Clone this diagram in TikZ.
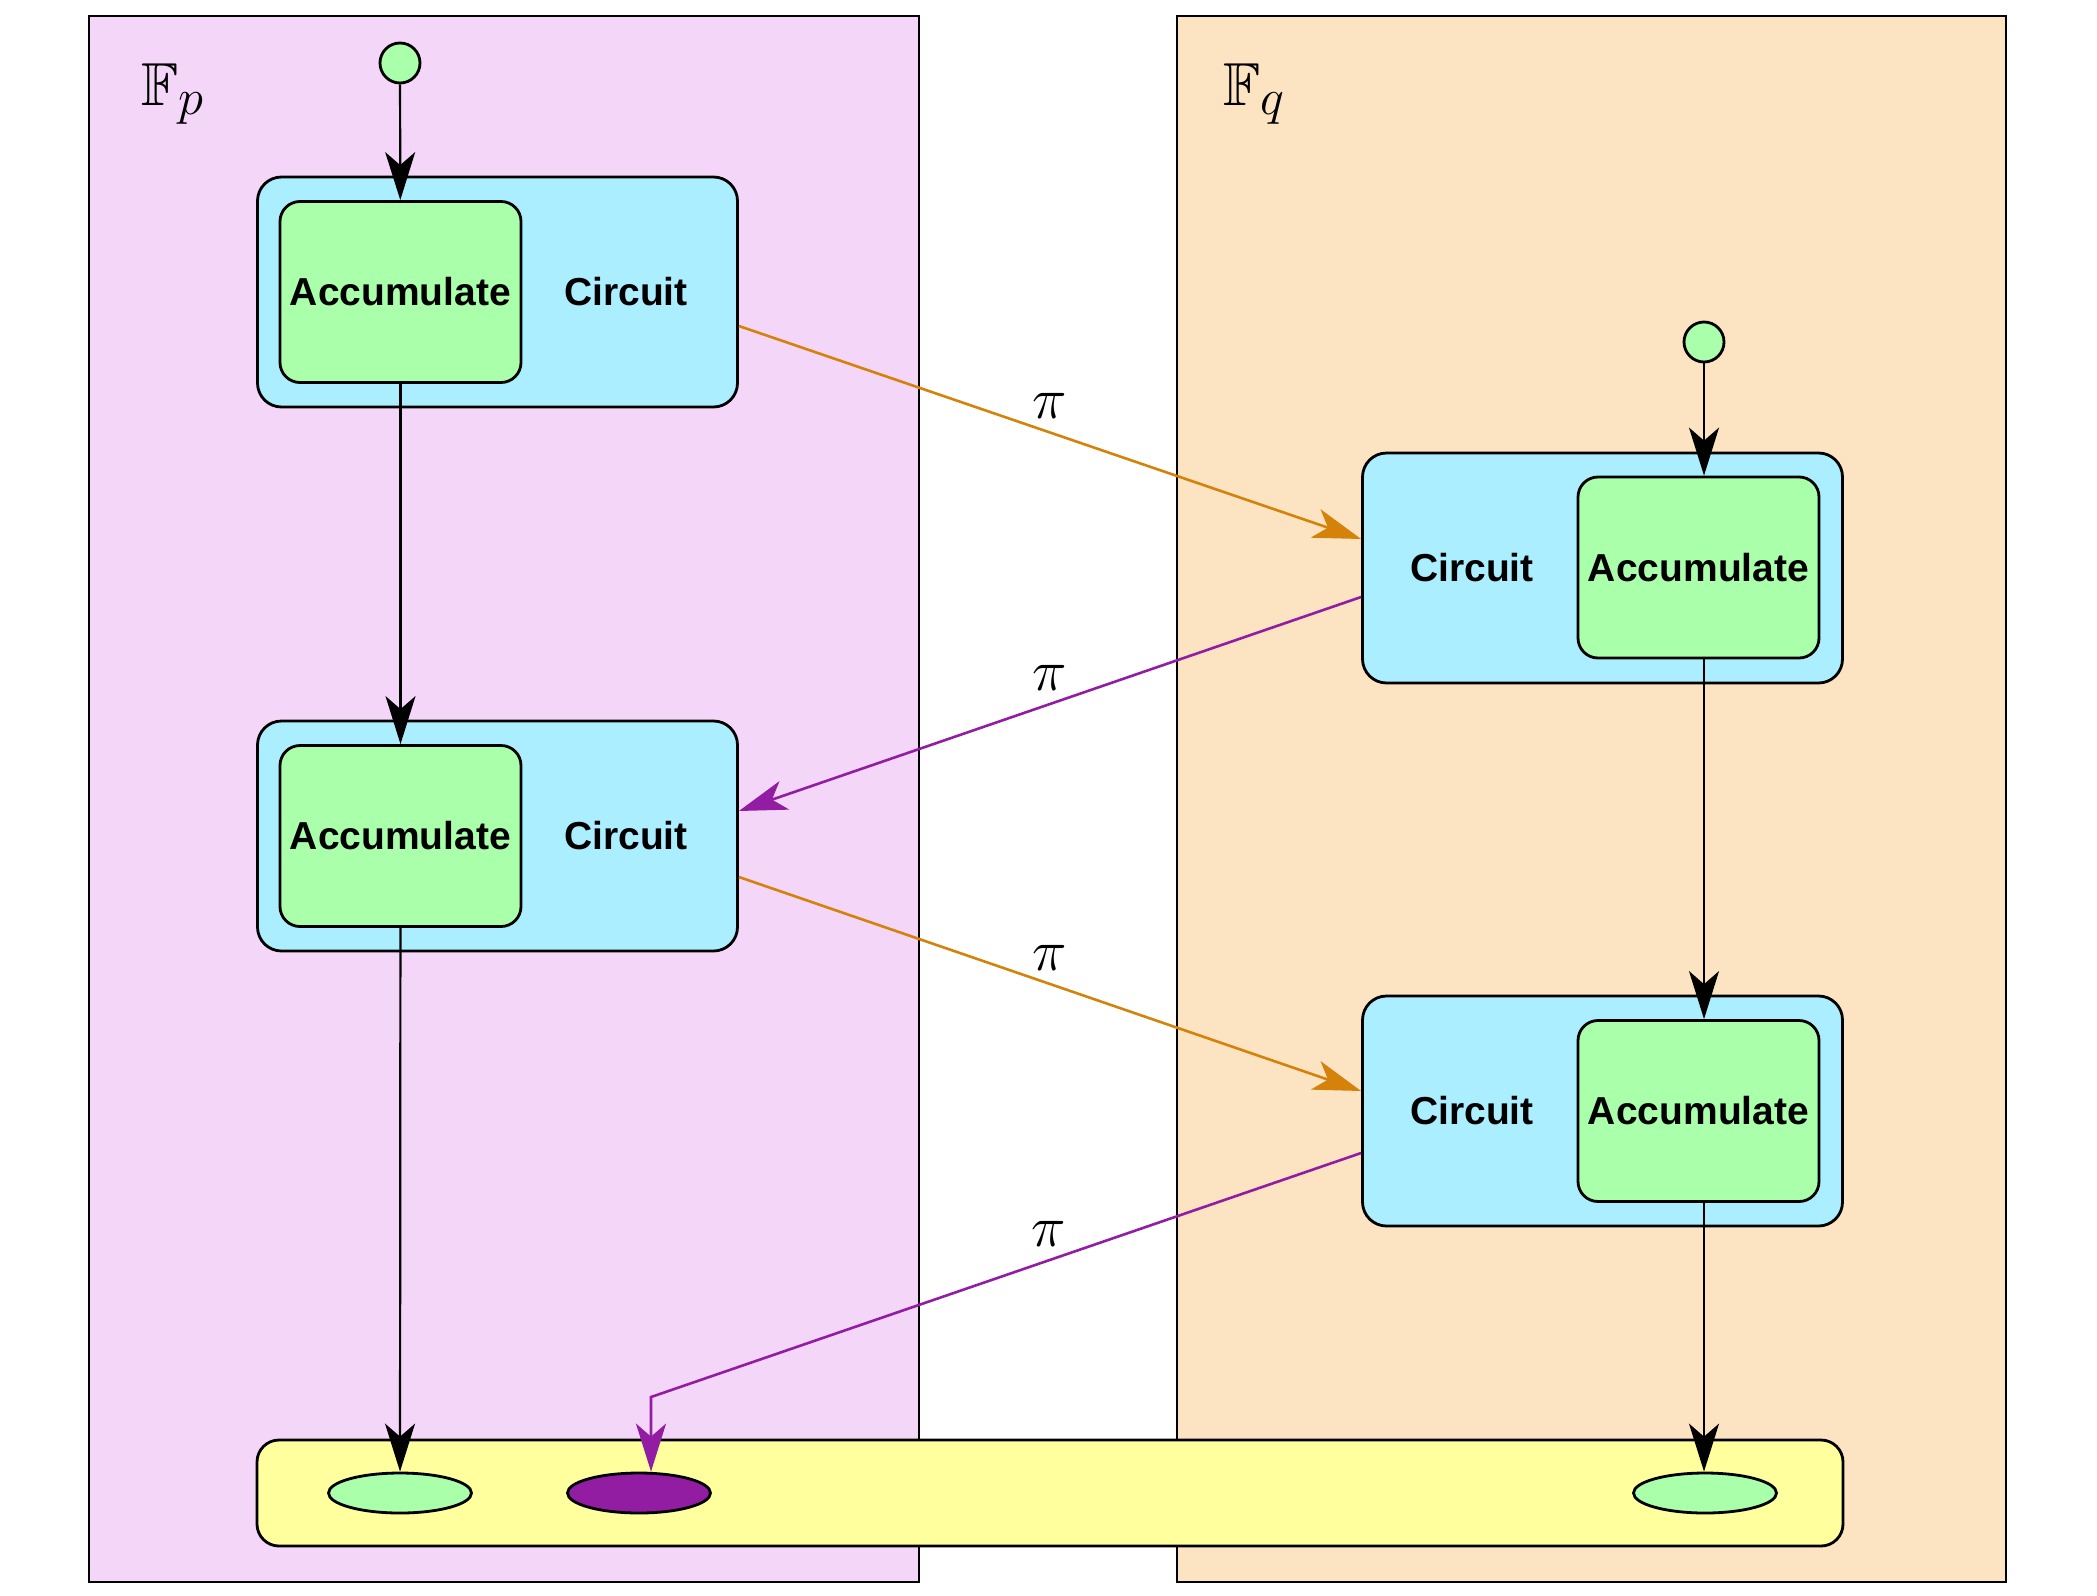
\documentclass[tikz,border=0pt]{standalone}
\usepackage{fontspec}
\setmainfont{Liberation Sans}
\usepackage{amsmath}
\usepackage{amssymb}
\usetikzlibrary{arrows.meta, shapes.geometric, calc}

\definecolor{fieldp}{HTML}{F4D6F8}
\definecolor{fieldq}{HTML}{FCE3C1}
\definecolor{circfill}{HTML}{AAEEFF}
\definecolor{accfill}{HTML}{AAFFAA}
\definecolor{barfill}{HTML}{FFFF9E}
\definecolor{sendq}{HTML}{D4820A}
\definecolor{sendp}{HTML}{921CA2}

\begin{document}
\begin{tikzpicture}[x=0.5pt, y=-0.5pt, font=\fontsize{19.5}{23}\selectfont\bfseries,
    panel/.style={draw, line width=0.6pt},
    fieldlbl/.style={anchor=base west, inner sep=0pt, font=\Huge, scale=1.22},
    circbox/.style={draw, line width=1.4pt, rounded corners=12pt, fill=circfill, minimum width=240pt, minimum height=115pt, inner sep=0pt},
    accbox/.style={draw, line width=1.4pt, rounded corners=10pt, fill=accfill, minimum width=120.5pt, minimum height=90.5pt, inner sep=0pt},
    startdot/.style={draw, circle, line width=1.4pt, fill=accfill, minimum size=20pt, inner sep=0pt},
    resbar/.style={draw, line width=1.4pt, rounded corners=11pt, fill=barfill, minimum width=793pt, minimum height=53pt, inner sep=0pt},
    result/.style={draw, ellipse, line width=1.4pt, minimum width=71.5pt, minimum height=20pt, inner sep=0pt},
    flow/.style={-{Stealth[length=24pt, width=15pt, inset=6.5pt]}, line width=1.1pt},
    hop/.style={flow, line width=1.3pt},
    pilabel/.style={font=\Huge, scale=1.17, above=2pt}]
\useasboundingbox (0,0) rectangle (2097,1595);

% the two fields
\draw[panel, fill=fieldp] (89,16) rectangle (919,1582);
\draw[panel, fill=fieldq] (1177,16) rectangle (2006,1582);
\node[fieldlbl] (fp) at (141,105) {$\mathbb{F}_p$};
\node[fieldlbl] (fq) at (1223,105) {$\mathbb{F}_q$};

% final accumulators
\node[resbar] (bar) at (1050,1493) {};
\node[result, fill=accfill] (rp) at (400,1493) {};
\node[result, fill=sendp] (rx) at (639,1493) {};
\node[result, fill=accfill] (rq) at (1705,1493) {};

% F_p side
\node[startdot] (sp) at (400,63) {};
\node[circbox] (cp1) at (497.5,292) {};
\node[accbox] (ap1) at (400.5,292) {Accumulate};
\node (tp1) at (626,292) {Circuit};
\node[circbox] (cp2) at (497.5,836) {};
\node[accbox] (ap2) at (400.5,836) {Accumulate};
\node (tp2) at (626,836) {Circuit};

% F_q side
\node[startdot] (sq) at (1704,342) {};
\node[circbox] (cq1) at (1602.5,568) {};
\node[accbox] (aq1) at (1698.5,567.5) {Accumulate};
\node (tq1) at (1472,568) {Circuit};
\node[circbox] (cq2) at (1602.5,1111) {};
\node[accbox] (aq2) at (1698.5,1111) {Accumulate};
\node (tq2) at (1472,1111) {Circuit};

\draw[flow] (sp) -- (ap1);
\draw[flow] (ap1) -- (ap2);
\draw[flow] (ap2) -- (rp);
\draw[flow] (sq) -- (sq |- aq1.north);
\draw[flow] (aq1.south -| sq) -- (aq2.north -| sq);
\draw[flow] (aq2.south -| sq) -- (rq.north -| sq);

% proofs passed across
\draw[hop, sendq] ($(cp1.east)+(0,34)$) -- node[pilabel, text=black] (pi1) {$\pi$} ($(cq1.west)+(0,-29)$);
\draw[hop, sendp] ($(cq1.west)+(0,29)$) -- node[pilabel, text=black] (pi2) {$\pi$} ($(cp2.east)+(0,-25)$);
\draw[hop, sendq] ($(cp2.east)+(0,41)$) -- node[pilabel, text=black] (pi3) {$\pi$} ($(cq2.west)+(0,-20)$);
\coordinate (bend) at (651,1397);
\draw[hop, sendp] ($(cq2.west)+(0,42)$) -- node[pilabel, pos=0.44, text=black] (pi4) {$\pi$} (bend) -- (bend |- rx.north);
\end{tikzpicture}
\end{document}
